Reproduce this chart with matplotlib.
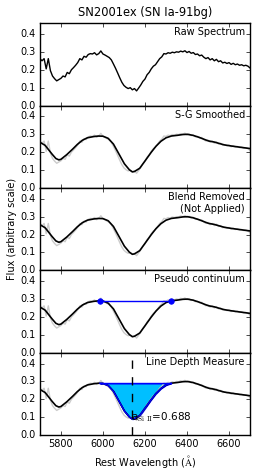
import numpy as np
import matplotlib
matplotlib.use('Agg')
import matplotlib.pyplot as plt

plt.style.use('classic')

# raw spectrum, read by eye, every 10 A
wave = np.arange(5700, 6701, 10)
raw = [0.262, 0.250, 0.262, 0.205, 0.262, 0.195, 0.165, 0.150, 0.138, 0.145,
       0.152, 0.165, 0.160, 0.185, 0.178, 0.200, 0.212, 0.225, 0.240, 0.262,
       0.255, 0.275, 0.270, 0.285, 0.290, 0.288, 0.295, 0.283, 0.290, 0.305,
       0.288, 0.282, 0.275, 0.268, 0.255, 0.232, 0.208, 0.182, 0.155, 0.130,
       0.112, 0.102, 0.095, 0.100, 0.088, 0.095, 0.082, 0.098, 0.115, 0.135,
       0.148, 0.172, 0.185, 0.205, 0.220, 0.228, 0.245, 0.262, 0.272, 0.290,
       0.288, 0.295, 0.292, 0.298, 0.295, 0.300, 0.298, 0.304, 0.300, 0.306,
       0.296, 0.302, 0.292, 0.296, 0.285, 0.288, 0.278, 0.282, 0.270, 0.262,
       0.268, 0.255, 0.262, 0.250, 0.258, 0.245, 0.250, 0.238, 0.242, 0.235,
       0.240, 0.230, 0.236, 0.228, 0.232, 0.225, 0.228, 0.222, 0.225, 0.220,
       0.210]

# smoothed spectrum
s_wave = [5700, 5725, 5750, 5775, 5790, 5800, 5825, 5850, 5875, 5900, 5925,
          5950, 5975, 6000, 6025, 6050, 6075, 6100, 6125, 6140, 6150, 6175,
          6200, 6225, 6250, 6275, 6300, 6325, 6350, 6375, 6400, 6425, 6450,
          6475, 6500, 6525, 6550, 6575, 6600, 6625, 6650, 6675, 6700]
smooth = [0.255, 0.238, 0.200, 0.165, 0.157, 0.160, 0.183, 0.210, 0.240,
          0.265, 0.280, 0.286, 0.290, 0.289, 0.277, 0.245, 0.192, 0.138,
          0.102, 0.090, 0.092, 0.110, 0.150, 0.192, 0.230, 0.260, 0.280,
          0.290, 0.293, 0.298, 0.300, 0.295, 0.286, 0.275, 0.263, 0.258,
          0.250, 0.241, 0.236, 0.232, 0.228, 0.224, 0.220]

cont_wave = [5985, 6325]
cont_flux = [0.290, 0.290]
line_center = 6140
depth = 0.688

labels = ['Raw Spectrum', 'S-G Smoothed', 'Blend Removed\n(Not Applied)',
          'Pseudo continuum', 'Line Depth Measure']

fig, axes = plt.subplots(5, 1, sharex=True, figsize=(2.66, 4.73), dpi=100)
fig.patch.set_facecolor('white')
fig.subplots_adjust(left=0.15, right=0.94, top=0.951, bottom=0.08, hspace=0)

sw = np.linspace(5700, 6700, 501)
sf = np.interp(sw, s_wave, smooth)

for i, ax in enumerate(axes):
    if i == 0:
        ax.plot(wave, raw, color='black', lw=1)
    else:
        ax.plot(wave, raw, color='0.8', lw=1)
        ax.plot(sw, sf, color='black', lw=1.2)
    ax.set_xlim(5700, 6700)
    ax.set_ylim(0, 0.46)
    ax.set_yticks([0.0, 0.1, 0.2, 0.3, 0.4])
    ax.set_xticks([5800, 6000, 6200, 6400, 6600])
    ax.tick_params(labelsize=7, length=3)
    ax.tick_params(axis='x', pad=3)
    ax.tick_params(axis='y', pad=3)
    ax.text(0.975, 0.95, labels[i], transform=ax.transAxes, ha='right',
            va='top', fontsize=7, multialignment='right')

axes[3].plot(cont_wave, cont_flux, color='blue', lw=1, marker='o',
             markersize=4, markeredgecolor='blue')

ax = axes[4]
mask = (sw >= cont_wave[0]) & (sw <= cont_wave[1])
cont_line = np.interp(sw[mask], cont_wave, cont_flux)
ax.fill_between(sw[mask], sf[mask], cont_line, color='deepskyblue',
                edgecolor='blue', lw=1)
ax.plot(sw[mask], sf[mask], color='blue', lw=1)
ax.plot(cont_wave, cont_flux, color='blue', lw=1)
ax.axvline(line_center, color='black', ls='--', lw=1)
ax.text(line_center - 5, 0.085, 'a$_{\\rm Si\\ II}$=%.3f' % depth, fontsize=7.5)

ax.set_xlabel('Rest Wavelength ($\\rm\\AA$)', fontsize=7, labelpad=3)
axes[0].set_title('SN2001ex (SN Ia-91bg)', fontsize=8.3)
fig.text(0.045, 0.515, 'Flux (arbitrary scale)', rotation=90, ha='center',
         va='center', fontsize=7)

fig.savefig('out.png', dpi=100, facecolor='white')
